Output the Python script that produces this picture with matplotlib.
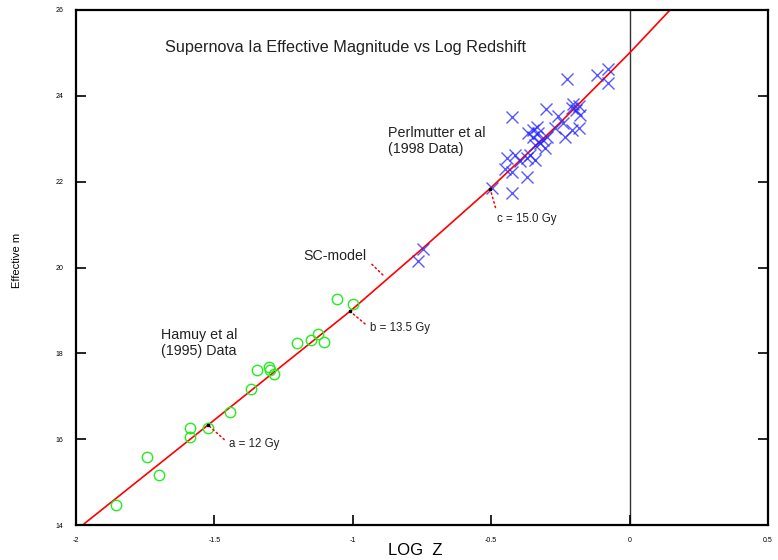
import numpy as np
import matplotlib
matplotlib.use('Agg')
import matplotlib.pyplot as plt

plt.rcParams['font.family'] = ['Liberation Sans', 'DejaVu Sans']

# Hamuy et al (1995) data, log z vs effective m
hamuy_logz = [-1.855, -1.745, -1.700, -1.587, -1.587, -1.522, -1.445, -1.367, -1.347,
              -1.303, -1.299, -1.285, -1.203, -1.151, -1.125, -1.103, -1.057, -0.998]
hamuy_m = [14.46, 15.59, 15.16, 16.27, 16.06, 16.25, 16.64, 17.18, 17.61,
           17.69, 17.61, 17.53, 18.23, 18.31, 18.44, 18.26, 19.27, 19.15]

# Perlmutter et al (1998) data
perl_logz = [-0.763, -0.747, -0.497, -0.426, -0.450, -0.426, -0.372, -0.414, -0.444, -0.396,
             -0.372, -0.342, -0.360, -0.342, -0.324, -0.306, -0.366, -0.348, -0.336, -0.330,
             -0.348, -0.312, -0.300, -0.426, -0.303, -0.270, -0.258, -0.242, -0.233, -0.209,
             -0.182, -0.209, -0.195, -0.182, -0.179, -0.203, -0.227, -0.119, -0.079, -0.079]
perl_m = [20.16, 20.42, 21.85, 21.73, 22.29, 22.23, 22.12, 22.62, 22.54, 22.47,
          22.54, 22.51, 22.62, 22.85, 22.89, 22.78, 23.13, 23.20, 23.28, 23.13,
          23.05, 22.97, 23.05, 23.50, 23.69, 23.24, 23.53, 23.36, 23.05, 23.20,
          23.24, 23.72, 23.67, 23.76, 23.55, 23.81, 24.39, 24.49, 24.62, 24.31]

# SC-model curve
model_logz = [-1.976, -1.523, -1.010, -0.747, -0.504, -0.25, 0.0, 0.146]
model_m = [14.0, 16.33, 18.98, 20.45, 21.84, 23.38, 25.0, 26.0]

# ages marked on the model curve
age_labels = ['a = 12 Gy', 'b = 13.5 Gy', 'c = 15.0 Gy']
age_logz = [-1.523, -1.010, -0.504]
age_m = [16.33, 18.98, 21.84]
age_text_logz = [-1.447, -0.938, -0.479]
age_text_m = [15.89, 18.59, 21.13]
age_relpos = [(0, 0.5), (0, 0.5), (0, 1.0)]

xticks = [-2, -1.5, -1, -0.5, 0, 0.5]
xticklabels = ['-2', '-1.5', '-1', '-0.5', '0', '0.5']
yticks = [14, 16, 18, 20, 22, 24, 26]

fig = plt.figure(figsize=(7.78, 5.60), dpi=100)
ax = fig.add_axes([76/778, 35/560, 692/778, 515/560])

ax.plot(model_logz, model_m, color='red', lw=1.2, zorder=2)
ax.plot(hamuy_logz, hamuy_m, 'o', mfc='none', mec='#22ee22', ms=7.5, mew=1.0, zorder=3)
ax.plot(perl_logz, perl_m, 'x', color='#2222ff', alpha=0.75, ms=8, mew=1.0, zorder=3)
ax.axvline(0, color='#333333', lw=1.0, zorder=1)
ax.plot(age_logz, age_m, 's', color='black', ms=2, zorder=4)

dots = (0, (1, 2))
for lab, x, y, tx, ty, rp in zip(age_labels, age_logz, age_m, age_text_logz, age_text_m, age_relpos):
    ax.annotate(lab, xy=(x, y), xytext=(tx, ty), fontsize=8.3, va='center', ha='left',
                color='#222222',
                arrowprops=dict(arrowstyle='-', ls=dots, color='red', lw=1.1,
                                shrinkA=2, shrinkB=2, relpos=rp))

ax.annotate('SC-model', xy=(-0.884, 19.78), xytext=(-1.180, 20.27), fontsize=10.2,
            va='center', ha='left', color='#222222',
            arrowprops=dict(arrowstyle='-', ls=dots, color='red', lw=1.1,
                            shrinkA=3, shrinkB=0, relpos=(1, 0.3)))

ax.text(-0.873, 22.95, 'Perlmutter et al\n(1998 Data)', fontsize=10.3, va='center',
        color='#222222', linespacing=1.12)
ax.text(-1.693, 18.24, 'Hamuy et al\n(1995) Data', fontsize=10.3, va='center',
        color='#222222', linespacing=1.12)
ax.text(0.389, 0.928, 'Supernova Ia Effective Magnitude vs Log Redshift', transform=ax.transAxes,
        fontsize=11.7, ha='center', va='center', color='#222222')

ax.set_xlim(-2, 0.5)
ax.set_ylim(14, 26)
ax.set_xticks(xticks)
ax.set_xticklabels(xticklabels)
ax.set_yticks(yticks)
ax.tick_params(direction='in', length=7, width=1.2, labelsize=5, pad=9,
               left=True, right=True, bottom=True, top=False)
for s in ax.spines.values():
    s.set_linewidth(1.6)

ax.set_xlabel('LOG  Z', fontsize=12)
ax.xaxis.set_label_coords(0.49, -0.035)
ax.set_ylabel('Effective m', fontsize=8)
ax.yaxis.set_label_coords(-0.078, 0.513)

fig.savefig('out.png', dpi=100)
